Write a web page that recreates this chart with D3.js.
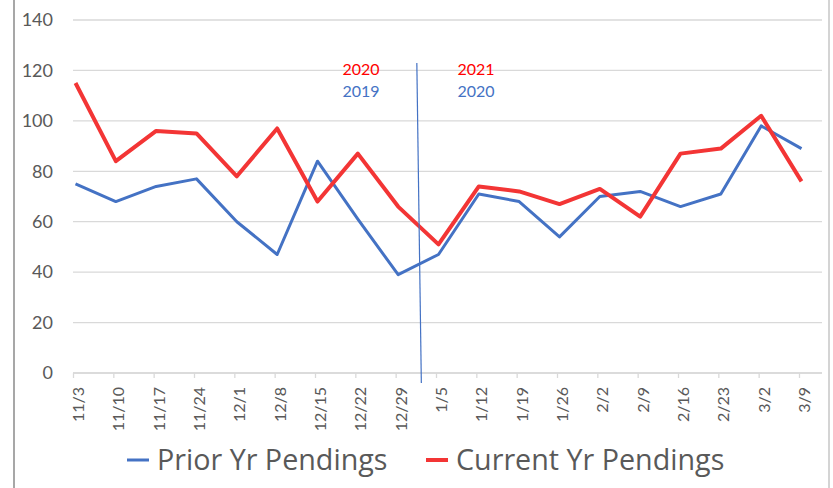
<!DOCTYPE html>
<html>
<head>
<meta charset="utf-8">
<script src="https://cdn.jsdelivr.net/npm/d3@7"></script>
<style>
  body { margin: 0; background: #fff; }
  svg { display: block; font-family: Lato, "Open Sans", sans-serif; }
</style>
</head>
<body>
<svg id="chart" width="833" height="488"></svg>
<script>
// Data
const weeks = ["11/3", "11/10", "11/17", "11/24", "12/1", "12/8", "12/15", "12/22", "12/29",
    "1/5", "1/12", "1/19", "1/26", "2/2", "2/9", "2/16", "2/23", "3/2", "3/9"];
const priorYr = [75, 68, 74, 77, 60, 47, 84, 61, 39, 47, 71, 68, 54, 70, 72, 66, 71, 98, 89];
const currentYr = [115, 84, 96, 95, 78, 97, 68, 87, 66, 51, 74, 72, 67, 73, 62, 87, 89, 102, 76];
const yTicks = [0, 20, 40, 60, 80, 100, 120, 140];

const svg = d3.select("#chart");
const width = 833, height = 488;

const color = {
    prior: "#4472C4",
    current: "#F33535",
    text: "#595959",
    grid: "#d9d9d9"
};

// Frame
svg.append("line").attr("x1", 14).attr("x2", 14).attr("y1", 0).attr("y2", height)
    .attr("stroke", "#8a8a8a").attr("stroke-width", 1.5);
svg.append("line").attr("x1", 829).attr("x2", 829).attr("y1", 0).attr("y2", height)
    .attr("stroke", "#d4d4d4").attr("stroke-width", 2);

// Scales
const x = d3.scaleLinear().domain([0, weeks.length - 1]).range([75.5, 801.5]);
const y = d3.scaleLinear().domain([0, 140]).range([373, 20]);
const plotLeft = x(0) - 2.5, plotRight = 822;

// Gridlines
svg.append("g")
    .selectAll("line")
    .data(yTicks)
    .enter().append("line")
    .attr("x1", plotLeft).attr("x2", plotRight)
    .attr("y1", d => y(d)).attr("y2", d => y(d))
    .attr("stroke", color.grid).attr("stroke-width", 1.3);

// Y axis labels
const yAxis = svg.append("g")
    .attr("transform", `translate(${plotLeft},0)`)
    .call(d3.axisLeft(y).tickValues(yTicks).tickSize(0).tickPadding(20));
yAxis.select(".domain").remove();
yAxis.selectAll("text")
    .attr("fill", color.text)
    .style("font-size", "18px")
    .style("font-family", "Lato, sans-serif");

// X axis (ticks sit just left of each week point)
const xTick = x.copy().range([x(0) - 2.5, x(weeks.length - 1) - 2.5]);
const xAxis = svg.append("g")
    .attr("transform", `translate(0,${y(0)})`)
    .call(d3.axisBottom(xTick)
        .tickValues(d3.range(weeks.length))
        .tickFormat(i => weeks[i])
        .tickSize(5).tickSizeOuter(0));
xAxis.select(".domain").attr("d", `M${plotLeft},0H${plotRight}`)
    .attr("stroke", color.grid).attr("stroke-width", 1.3);
xAxis.selectAll(".tick line").attr("stroke", color.grid).attr("stroke-width", 1.3);
xAxis.selectAll(".tick text")
    .attr("fill", color.text)
    .style("font-size", "16px")
    .style("font-family", "Lato, sans-serif")
    .attr("text-anchor", "end")
    .attr("transform", "translate(5,14) rotate(-90)")
    .attr("x", 0).attr("y", 0).attr("dy", "0.35em");

// Lines
const line = d3.line().x((d, i) => x(i)).y(d => y(d));

svg.append("path")
    .datum(priorYr)
    .attr("fill", "none")
    .attr("stroke", color.prior)
    .attr("stroke-width", 3)
    .attr("stroke-linejoin", "round")
    .attr("d", line);

svg.append("path")
    .datum(currentYr)
    .attr("fill", "none")
    .attr("stroke", color.current)
    .attr("stroke-width", 4)
    .attr("stroke-linejoin", "round")
    .attr("d", line);

// Year divider and labels
svg.append("line")
    .attr("x1", x(8.5) - 1.5).attr("y1", 63)
    .attr("x2", x(8.5) + 3).attr("y2", 383)
    .attr("stroke", color.prior).attr("stroke-width", 1.2);

const yearLabels = [
    { text: "2020", pos: 7.08, row: 0, c: "#FF0000" },
    { text: "2019", pos: 7.08, row: 1, c: color.prior },
    { text: "2021", pos: 9.93, row: 0, c: "#FF0000" },
    { text: "2020", pos: 9.93, row: 1, c: color.prior }
];
svg.append("g")
    .selectAll("text")
    .data(yearLabels)
    .enter().append("text")
    .attr("x", d => x(d.pos))
    .attr("y", d => d.row ? 97 : 75)
    .attr("text-anchor", "middle")
    .attr("fill", d => d.c)
    .style("font-size", "16px")
    .text(d => d.text);

// Legend
const legend = [
    { label: "Prior Yr Pendings", c: color.prior, w: 3, x: 127 },
    { label: "Current Yr Pendings", c: color.current, w: 4, x: 426 }
];
const lg = svg.append("g")
    .selectAll("g")
    .data(legend)
    .enter().append("g")
    .attr("transform", d => `translate(${d.x},460)`);
lg.append("line")
    .attr("x1", 0).attr("x2", 22)
    .attr("stroke", d => d.c).attr("stroke-width", d => d.w);
lg.append("text")
    .attr("x", 30).attr("dy", "0.35em")
    .attr("fill", color.text)
    .style("font-family", "'Open Sans', sans-serif")
    .style("font-size", "28.7px")
    .text(d => d.label);
</script>
</body>
</html>
